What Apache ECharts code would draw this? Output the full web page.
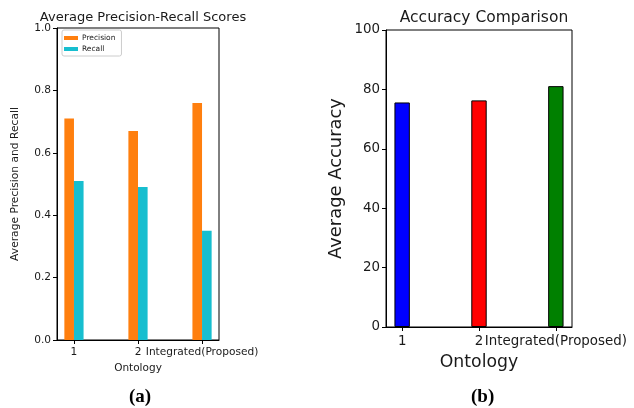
<!DOCTYPE html>
<html><head><meta charset="utf-8">
<script src="https://cdn.jsdelivr.net/npm/echarts@6/dist/echarts.min.js"></script>
<style>html,body{margin:0;padding:0;background:#fff}#c{width:634px;height:408px}</style>
</head><body><div id="c"></div>
<script>
const categories = ['1', '2', 'Integrated(Proposed)'];
const precision = [0.71, 0.67, 0.76];
const recall = [0.51, 0.49, 0.35];
const accuracy = [75.6, 76.3, 81.1];
const accColors = ['#0000ff', '#ff0000', '#008000'];
const prTicks = [0, 0.2, 0.4, 0.6, 0.8, 1.0];
const accTicks = [0, 20, 40, 60, 80, 100];

const FONT = 'DejaVu Sans';
const TXT = '#1a1a1a';
const chart = echarts.init(document.getElementById('c'));
const idx = categories.map((_, i) => i);

chart.setOption({
  animation: false,
  textStyle: {fontFamily: FONT},
  title: [
    {text: 'Average Precision-Recall Scores', left: 138, top: 6, textAlign: 'center',
     textStyle: {fontFamily: FONT, fontSize: 13, fontWeight: 'normal', color: TXT}},
    {text: 'Accuracy Comparison', left: 479, top: 5, textAlign: 'center',
     textStyle: {fontFamily: FONT, fontSize: 15.5, fontWeight: 'normal', color: TXT}}
  ],
  legend: {
    data: ['Precision', 'Recall'], orient: 'vertical', left: 62, top: 30,
    itemWidth: 14, itemHeight: 4, itemGap: 3,
    padding: [4, 6, 3, 2],
    borderColor: '#ccc', borderWidth: 1, borderRadius: 2,
    textStyle: {fontFamily: FONT, fontSize: 7.5, color: TXT, padding: [0, 0, 0, -1]},
    icon: 'rect'
  },
  grid: [
    {left: 57, top: 28, width: 162, height: 312, show: true, borderColor: '#000', borderWidth: 1, backgroundColor: 'transparent'},
    {left: 386, top: 30, width: 186, height: 297, show: true, borderColor: '#000', borderWidth: 1, backgroundColor: 'transparent'}
  ],
  xAxis: [
    {type: 'value', gridIndex: 0, min: -0.265, max: 2.265,
     name: 'Ontology', nameLocation: 'middle', nameGap: 22,
     nameTextStyle: {fontFamily: FONT, fontSize: 10.5, color: TXT},
     axisLine: {onZero: false, lineStyle: {color: '#000'}},
     axisTick: {customValues: idx, length: 4, lineStyle: {color: '#000'}},
     axisLabel: {customValues: idx, formatter: v => categories[Math.round(v)], fontFamily: FONT, fontSize: 10.6, color: TXT, margin: 7},
     splitLine: {show: false}},
    {type: 'value', gridIndex: 1, min: -0.21, max: 2.21,
     name: 'Ontology', nameLocation: 'middle', nameGap: 27,
     nameTextStyle: {fontFamily: FONT, fontSize: 17.3, color: TXT},
     axisLine: {onZero: false, lineStyle: {color: '#000'}},
     axisTick: {customValues: idx, length: 4, lineStyle: {color: '#000'}},
     axisLabel: {customValues: idx, formatter: v => categories[Math.round(v)], fontFamily: FONT, fontSize: 13.4, color: TXT, margin: 8},
     splitLine: {show: false}}
  ],
  yAxis: [
    {type: 'value', gridIndex: 0, min: 0, max: 1,
     name: 'Average Precision and Recall', nameLocation: 'middle', nameGap: 36,
     nameTextStyle: {fontFamily: FONT, fontSize: 10.7, color: TXT},
     axisLine: {show: true, onZero: false, lineStyle: {color: '#000'}},
     axisTick: {show: true, customValues: prTicks, length: 4, lineStyle: {color: '#000'}},
     axisLabel: {customValues: prTicks, formatter: v => v.toFixed(1), fontFamily: FONT, fontSize: 10.6, color: TXT, margin: 6},
     splitLine: {show: false}},
    {type: 'value', gridIndex: 1, min: 0, max: 100,
     name: 'Average Accuracy', nameLocation: 'middle', nameGap: 41,
     nameTextStyle: {fontFamily: FONT, fontSize: 17.9, color: TXT},
     axisLine: {show: true, onZero: false, lineStyle: {color: '#000'}},
     axisTick: {show: true, customValues: accTicks, length: 4, lineStyle: {color: '#000'}},
     axisLabel: {customValues: accTicks, fontFamily: FONT, fontSize: 13.4, color: TXT, margin: 6},
     splitLine: {show: false}}
  ],
  series: [
    {name: 'Precision', type: 'bar', xAxisIndex: 0, yAxisIndex: 0, barWidth: 9.6, barGap: '-100%',
     itemStyle: {color: '#ff7f0e'},
     data: precision.map((v, i) => [i - 0.075, v])},
    {name: 'Recall', type: 'bar', xAxisIndex: 0, yAxisIndex: 0, barWidth: 9.6, barGap: '-100%',
     itemStyle: {color: '#17becf'},
     data: recall.map((v, i) => [i + 0.075, v])},
    {name: 'Accuracy', type: 'bar', xAxisIndex: 1, yAxisIndex: 1, barWidth: 15.4, barGap: '-100%',
     data: accuracy.map((v, i) => ({value: [i, v], itemStyle: {color: accColors[i], borderColor: '#000', borderWidth: 1}}))}
  ],
  graphic: [
    {type: 'text', left: 129, top: 388, style: {text: '(a)', font: 'bold 19px "Liberation Serif"', fill: '#000'}},
    {type: 'text', left: 471, top: 388, style: {text: '(b)', font: 'bold 19px "Liberation Serif"', fill: '#000'}}
  ]
});
</script></body></html>
